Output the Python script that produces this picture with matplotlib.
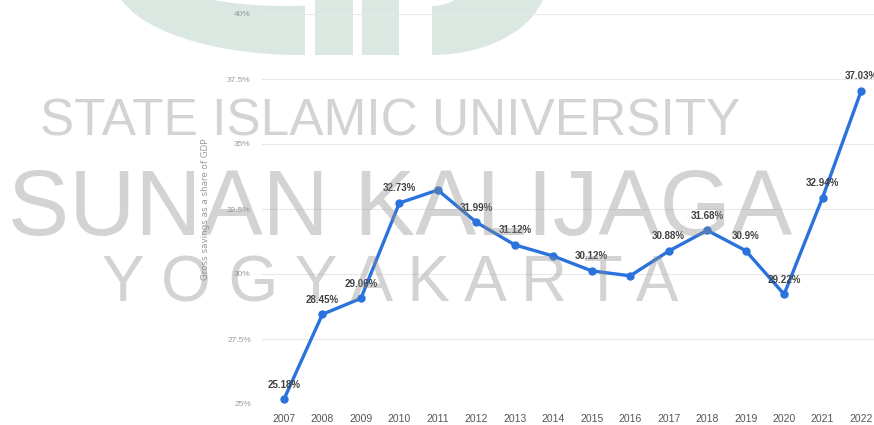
import matplotlib
matplotlib.use("Agg")
import matplotlib.pyplot as plt
from matplotlib.patches import Ellipse, Rectangle

years = [2007, 2008, 2009, 2010, 2011, 2012, 2013, 2014,
         2015, 2016, 2017, 2018, 2019, 2020, 2021, 2022]
savings = [25.18, 28.45, 29.06, 32.73, 33.23, 31.99, 31.12, 30.69,
           30.12, 29.93, 30.88, 31.68, 30.9, 29.22, 32.94, 37.03]
# statista only prints some of the values
labelled = [True, True, True, True, False, True, True, False,
            True, False, True, True, True, True, True, True]
yticks = [25, 27.5, 30, 32.5, 35, 37.5, 40]
ytick_labels = ["25%", "27.5%", "30%", "32.5%", "35%", "37.5%", "40%"]

W, H = 874, 425
BLUE = "#2a72dc"
LOGO = "#dbe7e1"

fig = plt.figure(figsize=(W / 100, H / 100), dpi=100, facecolor="white")

# background layer in pixel coords for the watermark logo
bg = fig.add_axes([0, 0, 1, 1], zorder=0)
bg.set_xlim(0, W)
bg.set_ylim(H, 0)
bg.axis("off")
left_shape = Ellipse((300, -20), 370, 150, color=LOGO, lw=0)
bg.add_patch(left_shape)
left_shape.set_clip_path(Rectangle((0, 0), 305, 60, transform=bg.transData))
bg.add_patch(Ellipse((285, -20), 225, 52, color="white", lw=0))
bg.add_patch(Rectangle((315, 0), 38, 55, color=LOGO, lw=0))
bg.add_patch(Rectangle((362, 0), 37, 55, color=LOGO, lw=0))
right_shape = Ellipse((432, -20), 230, 150, color=LOGO, lw=0)
bg.add_patch(right_shape)
right_shape.set_clip_path(Rectangle((432, 0), 200, 60, transform=bg.transData))
bg.add_patch(Ellipse((432, -20), 70, 52, color="white", lw=0))

ax = fig.add_axes([262 / W, (H - 404) / H, 621 / W, 390 / H], zorder=1)
ax.patch.set_alpha(0)

ax.plot(years, savings, color=BLUE, lw=2.4, marker="o", ms=5,
        solid_joinstyle="round", clip_on=False, zorder=3)
for yr, val, show in zip(years, savings, labelled):
    if not show:
        continue
    ax.annotate(f"{val:g}%", (yr, val), xytext=(0, 7),
                textcoords="offset points", ha="center", va="bottom",
                fontsize=7, fontweight="bold", family="Liberation Sans",
                color="#404040", annotation_clip=False, zorder=4)

ax.set_xlim(2006.43, 2022.57)
ax.set_ylim(25, 40)
ax.set_xticks(years)
ax.set_xticklabels([str(y) for y in years], family="Liberation Sans")
ax.set_yticks(yticks)
ax.set_yticklabels(ytick_labels, family="Liberation Sans")
ax.grid(axis="y", color="#e8e8e8", lw=0.8)
ax.set_axisbelow(True)
for s in ax.spines.values():
    s.set_visible(False)
ax.tick_params(axis="y", length=0, pad=8, labelsize=6, labelcolor="#9a9a9a")
ax.tick_params(axis="x", length=0, pad=7, labelsize=7.5, labelcolor="#555555")
ax.set_ylabel("Gross savings as a share of GDP", fontsize=6.3,
              color="#9a9a9a", labelpad=12)

# university watermark over everything
wm = dict(color="#8c8c8c", alpha=0.38, family="Liberation Sans",
          ha="center", va="baseline", zorder=10)
fig.text(390 / W, (H - 135) / H, "STATE ISLAMIC UNIVERSITY",
         fontsize=37, **wm)
fig.text(400 / W, (H - 235) / H, "SUNAN KALIJAGA", fontsize=66, **wm)
fig.text(390 / W, (H - 302) / H, "Y O G Y A K A R T A", fontsize=46, **wm)

fig.savefig("out.png", dpi=100, facecolor="white")
